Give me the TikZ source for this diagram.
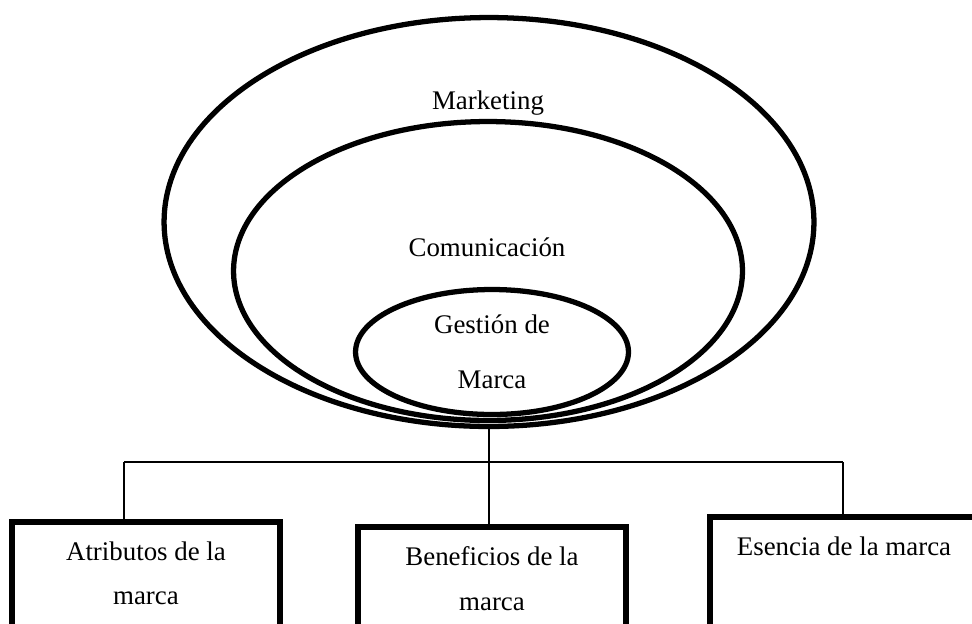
\documentclass[tikz,border=0pt]{standalone}
\usepackage{fontspec}
\setmainfont{Liberation Serif}
\usetikzlibrary{shapes.geometric,positioning}
\tikzstyle{ring}=[ellipse,draw,line width=3pt,inner sep=0pt,outer sep=0pt]
\tikzstyle{box}=[rectangle,draw,line width=3.4pt,inner sep=0pt,outer sep=0pt,minimum width=5.36cm,minimum height=2.8cm,anchor=north west]
\tikzstyle{link}=[draw,line width=1pt]
\tikzstyle{lbl}=[font=\fontsize{15.3pt}{25.6pt}\selectfont,align=center,inner sep=0pt]
\begin{document}
\begin{tikzpicture}[x=0.02cm,y=-0.02cm]
  \clip (0,0) rectangle (972,623);
  % nested ellipses
  \node[ring,minimum width=13cm,minimum height=8.18cm] (mkt) at (489,222) {};
  \node[ring,minimum width=10.18cm,minimum height=5.98cm] (com) at (488,271) {};
  \node[ring,minimum width=5.46cm,minimum height=2.5cm] (gm) at (492,352) {};
  \node[lbl] (mktlbl) at (488,103) {Marketing};
  \node[lbl] (comlbl) at (487,247) {Comunicación};
  \node[lbl,font=\fontsize{15.3pt}{31pt}\selectfont] (gmlbl) at (492,352) {Gestión de\\Marca};
  % boxes
  \node[box] (atrib) at (12,522) {};
  \node[box] (benef) at (358,527) {};
  \node[box] (esen) at (710,517) {};
  \node[lbl,anchor=north] (atriblbl) at ([yshift=-0.38cm]atrib.north) {Atributos de la\\marca};
  \node[lbl,anchor=north] (beneflbl) at ([yshift=-0.38cm]benef.north) {Beneficios de la\\marca};
  \node[lbl,anchor=north] (esenlbl) at ([yshift=-0.38cm]esen.north) {Esencia de la marca};
  % connectors
  \coordinate[below=0.71cm of mkt.south] (hub);
  \coordinate (hl) at (124,462);
  \coordinate (hr) at (843,462);
  \draw[link] (mkt.south) -- (hub);
  \draw[link] (hl) -- (hr);
  \draw[link] (hl) -- (hl |- atrib.north);
  \draw[link] (hub) -- (hub |- benef.north);
  \draw[link] (hr) -- (hr |- esen.north);
\end{tikzpicture}
\end{document}
